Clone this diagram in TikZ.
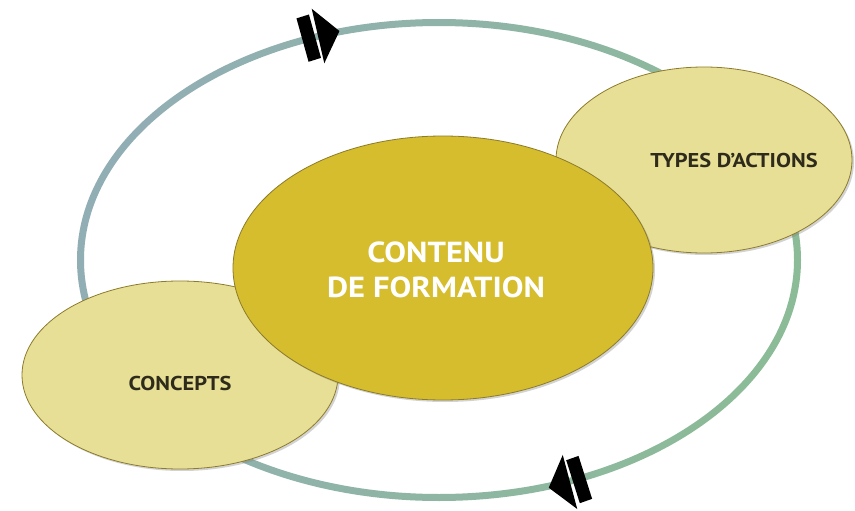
\documentclass[tikz,border=0pt]{standalone}
\usepackage{fontspec}
\setmainfont{PT Sans}
\newfontfamily\widesans[FakeStretch=1.12]{PT Sans}
\usetikzlibrary{shapes.geometric,shadows}

\definecolor{mainfill}{HTML}{D5BD2E}
\definecolor{softfill}{HTML}{E8DF97}
\definecolor{edgecol}{HTML}{8C7B2A}
\definecolor{ringblue}{HTML}{92AEB5}
\definecolor{ringgreen}{HTML}{8CBB97}
\definecolor{labelcol}{HTML}{2E2B1B}

\tikzset{
  bubble/.style={ellipse, draw=edgecol, line width=0.8pt, inner sep=0pt,
    drop shadow={shadow xshift=2pt, shadow yshift=-2pt, opacity=0.35}},
  sidetext/.style={text=labelcol, font=\widesans\fontsize{20}{24}\selectfont\bfseries, inner sep=0pt},
  maintext/.style={text=white, align=center, font=\widesans\fontsize{29}{35}\selectfont\bfseries, inner sep=0pt},
  ringmark/.pic={
    \fill[black] (-17,-22) -- (-4,-23) -- (-2,22) -- (-15,23) -- cycle;
    \fill[black] (0,-28) -- (22,0) -- (0,28) -- cycle;
  }
}

\begin{document}
\begin{tikzpicture}[x=1pt,y=-1pt,node distance=261pt]
  \fill[white] (0,0) rectangle (855,511);
  \useasboundingbox (0,0) rectangle (855,511);

  % the cycle behind everything
  \coordinate (ring) at (439,260);
  \shade[left color=ringblue, right color=ringgreen, shading angle=75, even odd rule]
    (ring) ellipse (362 and 241) (ring) ellipse (355 and 234);
  \coordinate (topmark) at (318,36);
  \coordinate (botmark) at (570,482);
  \pic[rotate=13] at (topmark) {ringmark};
  \pic[rotate=195] at (botmark) {ringmark};

  \coordinate (mid) at (443,268);
  \node[bubble, fill=softfill, minimum width=296pt, minimum height=186pt,
    right of=mid, yshift=108pt] (types) {};
  \node[bubble, fill=softfill, minimum width=316pt, minimum height=188pt,
    left of=mid, xshift=-2pt, yshift=-107pt] (concepts) {};
  \node[sidetext] (typeslabel) at ([xshift=30pt]types.center) {TYPES D’ACTIONS};
  \node[sidetext] (conceptslabel) at ([yshift=-8pt]concepts.center) {CONCEPTS};

  % centre
  \node[bubble, fill=mainfill, minimum width=420pt, minimum height=264pt] (contenu) at (mid) {};
  \node[maintext] (contenulabel) at ([xshift=-7pt,yshift=-2pt]contenu.center) {CONTENU\\DE FORMATION};
\end{tikzpicture}
\end{document}
